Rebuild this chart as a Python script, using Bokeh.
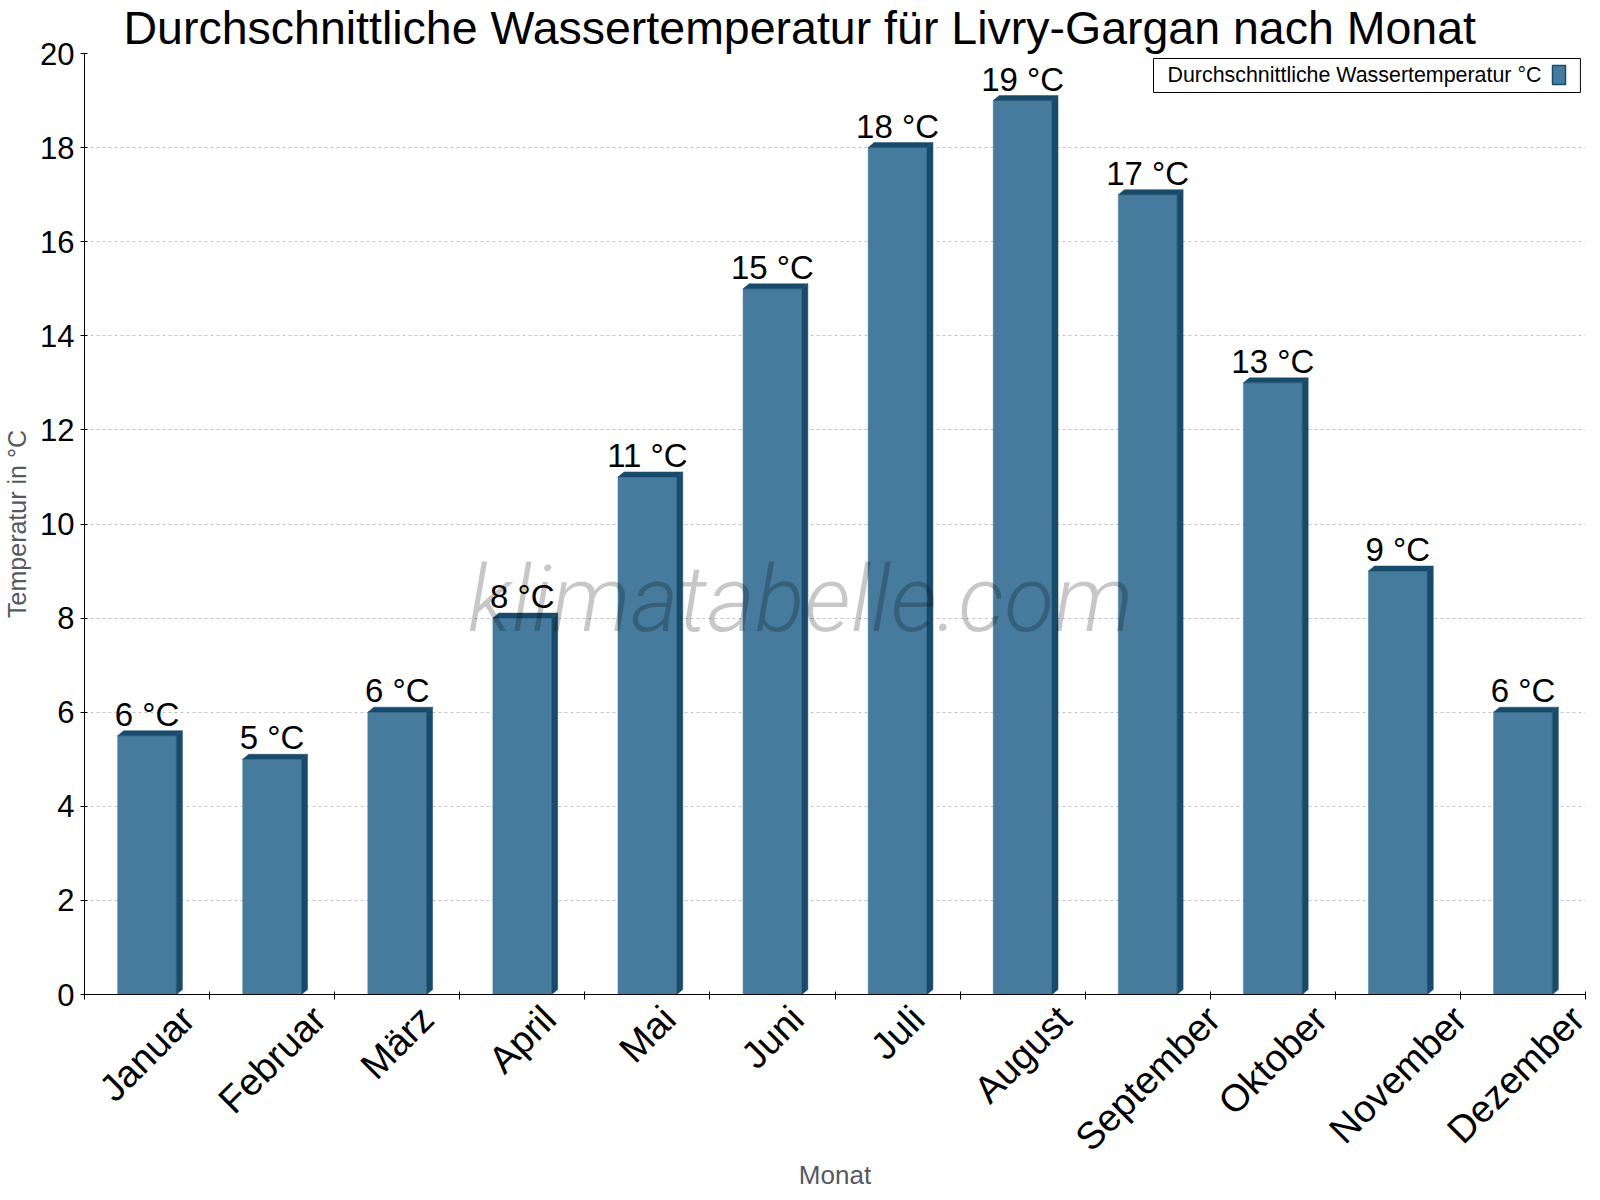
import math
from bokeh.plotting import figure
from bokeh.models import Range1d, FixedTicker, Label, LabelSet, ColumnDataSource, BoxAnnotation
from bokeh.core.properties import value
from bokeh.embed import file_html
from bokeh.resources import INLINE

# data
months = ["Januar", "Februar", "März", "April", "Mai", "Juni", "Juli",
          "August", "September", "Oktober", "November", "Dezember"]
temps = [5.5, 5.0, 6.0, 8.0, 11.0, 15.0, 18.0, 19.0, 17.0, 13.0, 9.0, 6.0]
temp_labels = ["6 °C", "5 °C", "6 °C", "8 °C", "11 °C", "15 °C", "18 °C",
               "19 °C", "17 °C", "13 °C", "9 °C", "6 °C"]
y_ticks = [0, 2, 4, 6, 8, 10, 12, 14, 16, 18, 20]
title_text = "Durchschnittliche Wassertemperatur für Livry-Gargan nach Monat"
series_name = "Durchschnittliche Wassertemperatur °C"
watermark = "klimatabelle.com"

FONT = "Liberation Sans"
FRONT = "#467b9d"
DARK = "#184b6b"

W, H = 1592, 1192
LEFT, RIGHT, TOP, BOTTOM = 84, 7, 53, 197

p = figure(width=W, height=H, x_range=Range1d(0, len(months)), y_range=Range1d(0, 20),
           output_backend="svg", toolbar_location=None,
           min_border_left=LEFT, min_border_right=RIGHT,
           min_border_top=TOP, min_border_bottom=BOTTOM)
p.outline_line_color = None
p.background_fill_color = "white"
p.border_fill_color = "white"

# title
p.title.text = title_text
p.title.text_font = FONT
p.title.text_font_size = "46.5px"
p.title.text_font_style = "normal"
p.title.text_color = "black"
p.title.align = "left"
p.title.offset = 39
p.title.standoff = -5
p.title.vertical_align = "top"

# pixel helpers (figure pixel -> data units)
px_x = (W - LEFT - RIGHT) / len(months)
px_y = (H - TOP - BOTTOM) / 20.0
def sx(x):
    return (x - LEFT) / px_x
def sy(y):
    return (H - BOTTOM - y) / px_y

def text_width(s, size):
    try:
        from PIL import ImageFont
        return ImageFont.truetype("LiberationSans-Regular.ttf", size).getlength(s)
    except Exception:
        return 0.55 * size * len(s)

# grid
p.xgrid.grid_line_color = None
p.ygrid.grid_line_color = "#c4c4c4"
p.ygrid.grid_line_dash = "3 3"

# y axis
p.yaxis.ticker = FixedTicker(ticks=y_ticks)
p.yaxis.major_tick_out = 4
p.yaxis.major_tick_in = 3
p.yaxis.minor_tick_line_color = None
p.yaxis.major_label_text_font = FONT
p.yaxis.major_label_text_font_size = "31px"
p.yaxis.major_label_text_color = "black"
p.yaxis.major_label_standoff = 6
p.yaxis.axis_line_color = "black"
p.yaxis.axis_label = "Temperatur in °C"
p.yaxis.axis_label_text_font = FONT
p.yaxis.axis_label_text_font_size = "25px"
p.yaxis.axis_label_text_font_style = "normal"
p.yaxis.axis_label_text_color = "#555a60"
p.yaxis.axis_label_standoff = 6

# x axis: border ticks as minor ticks, month names centred under each bar
xs = [i + 0.5 for i in range(len(months))]
fs = 38
half = math.sin(math.pi / 4) / 2
label_pos = [round(x + text_width(m, fs) * half / px_x, 4) for x, m in zip(xs, months)]
p.xaxis.ticker = FixedTicker(ticks=label_pos, minor_ticks=list(range(len(months) + 1)))
p.xaxis.major_label_overrides = {t: m for t, m in zip(label_pos, months)}
p.xaxis.major_tick_line_color = None
p.xaxis.minor_tick_line_color = "black"
p.xaxis.minor_tick_out = 5
p.xaxis.minor_tick_in = 3
p.xaxis.major_label_orientation = math.pi / 4
p.xaxis.major_label_text_font = FONT
p.xaxis.major_label_text_font_size = "%dpx" % fs
p.xaxis.major_label_text_color = "black"
p.xaxis.major_label_standoff = 12
p.xaxis.axis_line_color = "black"
p.xaxis.axis_label = "Monat"
p.xaxis.axis_label_text_font = FONT
p.xaxis.axis_label_text_font_size = "26px"
p.xaxis.axis_label_text_font_style = "normal"
p.xaxis.axis_label_text_color = "#555a60"
p.xaxis.axis_label_standoff = -17

# 3d bars
bw = 0.47
dx = 6 / px_x
dy = 5 / px_y
p.vbar(x=xs, top=temps, width=bw, fill_color=FRONT, line_color=FRONT, line_width=0.5)
side_x = [[x + bw / 2, x + bw / 2 + dx, x + bw / 2 + dx, x + bw / 2] for x in xs]
side_y = [[0, dy, t + dy, t] for t in temps]
top_x = [[x - bw / 2, x - bw / 2 + dx, x + bw / 2 + dx, x + bw / 2] for x in xs]
top_y = [[t, t + dy, t + dy, t] for t in temps]
p.patches(side_x + top_x, side_y + top_y, fill_color=DARK, line_color=DARK, line_width=0.5)

# value labels
vsrc = ColumnDataSource(dict(x=xs, y=temps, text=temp_labels))
p.add_layout(LabelSet(x="x", y="y", text="text", source=vsrc, y_offset=10,
                      text_align="center", text_baseline="alphabetic",
                      text_font=value(FONT), text_font_size=value("33px"),
                      text_color="black"))

# watermark
p.add_layout(Label(x=sx(800), y=sy(600), text=watermark, text_align="center",
                   text_baseline="middle", text_font="Roboto Light",
                   text_font_style="italic", text_font_size="92px",
                   text_color="black", text_alpha=0.22))

# legend box with swatch on the right
p.add_layout(Label(x=sx(1153), y=sy(58), text=series_name, text_align="left",
                   text_baseline="top", text_font=FONT, text_font_size="21.4px",
                   text_color="black", border_line_color="black", border_line_width=1,
                   background_fill_color="white",
                   padding=dict(left=14, right=39, top=5, bottom=5)))
p.add_layout(BoxAnnotation(left=sx(1552), right=sx(1565), top=sy(65), bottom=sy(84),
                           fill_color=FRONT, fill_alpha=1, line_color=DARK,
                           line_width=1.5, line_alpha=1))

open("out.html", "w").write(file_html(p, INLINE))
